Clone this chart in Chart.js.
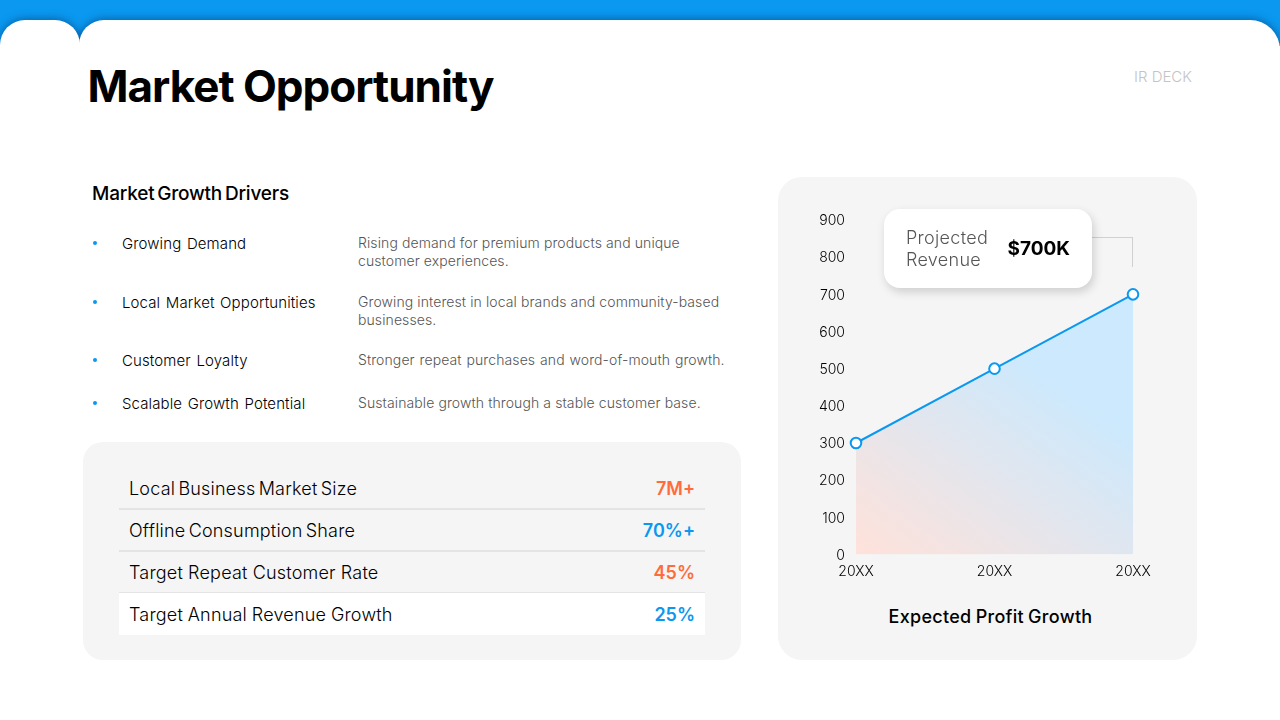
<!DOCTYPE html>
<html>
<head>
<meta charset="utf-8">
<title>Market Opportunity</title>
<script src="https://cdn.jsdelivr.net/npm/chart.js@4"></script>
<style>
* { box-sizing: border-box; }
html, body { margin: 0; padding: 0; background: #fff; }
body { width: 1280px; height: 720px; position: relative; overflow: hidden; font-family: Inter, sans-serif; color: #000; }
.abs { position: absolute; white-space: nowrap; }
#band { left: 0; top: 0; width: 1280px; height: 60px; background: #0a98f0; }
#page { left: 0; top: 0; width: 1280px; height: 720px; filter: drop-shadow(0 -1px 4px rgba(0,40,90,0.5)); }
#tab { left: 0; top: 20px; width: 80px; height: 60px; background: #fff; border-radius: 25px 25px 0 0; }
#sheet { left: 79px; top: 20px; width: 1201px; height: 60px; background: #fff; border-radius: 25px 30px 0 0; }
#below { left: 0; top: 46px; width: 1280px; height: 674px; background: #fff; }
#title { left: 87.5px; top: 60px; font-size: 44px; line-height: 53px; font-weight: 700; letter-spacing: -1px; }
#deck { right: 88px; top: 67px; font-size: 15px; line-height: 19px; color: #c4c4c4; font-weight: 300; }
#sub { left: 92px; top: 182px; font-size: 19px; line-height: 23px; font-weight: 500; letter-spacing: -0.2px; word-spacing: -2px; }
.dot { width: 4px; height: 4px; border-radius: 50%; background: #0a98f0; left: 93px; }
.drv { left: 122px; font-size: 15px; line-height: 19px; color: #000; font-weight: 300; letter-spacing: 0.12px; word-spacing: 1.2px; }
.dsc { left: 358px; font-size: 14px; line-height: 18px; color: #555; font-weight: 300; letter-spacing: 0.1px; }
#tablePanel { left: 83px; top: 442px; width: 658px; height: 218px; background: #f5f5f5; border-radius: 20px; }
.row { left: 119px; width: 586px; height: 42px; }
.row .k { position: absolute; left: 10px; top: 10px; font-size: 18px; line-height: 24px; font-weight: 350; color: #000; letter-spacing: 0.2px; }
.row .v { position: absolute; right: 10px; top: 10px; font-size: 18px; line-height: 24px; font-weight: 600; }
.sep { left: 119px; width: 586px; height: 2px; background: #e4e4e4; }
#chartPanel { left: 778px; top: 177px; width: 419px; height: 483px; background: #f5f5f5; border-radius: 24px; }
#canvasWrap { position: absolute; left: 780px; top: 200px; width: 400px; height: 400px; }
#chartTitle { left: 778px; width: 425px; text-align: center; top: 605px; font-size: 18px; line-height: 23px; font-weight: 500; letter-spacing: 0.3px; word-spacing: -1px; }
#leader { left: 1090px; top: 237px; width: 43px; height: 30px; border-top: 1px solid #d0d0d0; border-right: 1px solid #d0d0d0; }
#card { left: 884px; top: 209px; width: 208px; height: 79px; background: #fff; border-radius: 16px; box-shadow: 2px 4px 10px rgba(0,0,0,0.16); }
#cardLabel { position: absolute; left: 22px; top: 18px; font-size: 18px; line-height: 22px; font-weight: 300; color: #555; white-space: pre; letter-spacing: 0.3px; }
#cardValue { position: absolute; right: 22px; top: 28px; font-size: 19px; line-height: 24px; font-weight: 700; }
</style>
</head>
<body>
<div class="abs" id="band"></div>
<div class="abs" id="page">
  <div class="abs" id="tab"></div>
  <div class="abs" id="sheet"></div>
  <div class="abs" id="below"></div>
</div>
<div class="abs" id="title">Market Opportunity</div>
<div class="abs" id="deck">IR DECK</div>
<div class="abs" id="sub">Market Growth Drivers</div>
<div class="abs" id="tablePanel"></div>
<div class="abs" id="chartPanel"></div>
<div id="canvasWrap"><canvas id="growth" width="400" height="400"></canvas></div>
<div class="abs" id="leader"></div>
<div class="abs" id="card">
  <div id="cardLabel">Projected
Revenue</div>
  <div id="cardValue">$700K</div>
</div>
<div class="abs" id="chartTitle">Expected Profit Growth</div>
<script>
// chart data
const years = ['20XX', '20XX', '20XX'];
const profit = [300, 500, 700];
const yMax = 900;
const yStep = 100;

// text blocks
const driverNames = ['Growing Demand', 'Local Market Opportunities', 'Customer Loyalty', 'Scalable Growth Potential'];
const driverText = [
    'Rising demand for premium products and unique<br>customer experiences.',
    'Growing interest in local brands and community-based<br>businesses.',
    'Stronger repeat purchases and word-of-mouth growth.',
    'Sustainable growth through a stable customer base.'
];
const statNames = ['Local Business Market Size', 'Offline Consumption Share', 'Target Repeat Customer Rate', 'Target Annual Revenue Growth'];
const statValues = ['7M+', '70%+', '45%', '25%'];

const orange = '#ff6b3d';
const blue = '#0a98f0';

function addDiv(cls, top, html) {
    let d = document.createElement('div');
    d.className = 'abs ' + cls;
    d.style.top = top + 'px';
    d.innerHTML = html;
    document.body.appendChild(d);
    return d;
}

const driverTops = [234, 293, 351, 394];
const descWordGap = [0, 0, 0.8, 0];
for (let i = 0; i < driverNames.length; i++) {
    addDiv('dot', driverTops[i] + 7, '');
    addDiv('drv', driverTops[i], driverNames[i]);
    addDiv('dsc', driverTops[i], driverText[i]).style.wordSpacing = descWordGap[i] + 'px';
}

const rowTops = [467, 509, 551, 593];
const rowWordGap = [-2, -2, -0.2, -0.5];
for (let i = 0; i < statNames.length; i++) {
    let r = addDiv('row', rowTops[i], '<div class="k" style="word-spacing:' + rowWordGap[i] + 'px">' + statNames[i] + '</div><div class="v" style="color:' + (i % 2 ? blue : orange) + '">' + statValues[i] + '</div>');
    if (i == 3) r.style.background = '#fff';
    if (i < 3) addDiv('sep', rowTops[i] + 41, '');
}

function areaFill(context) {
    let area = context.chart.chartArea;
    if (!area) return 'transparent';
    let g = context.chart.ctx.createLinearGradient(area.left, area.bottom, area.left + 150, area.bottom - 210);
    g.addColorStop(0, '#ffe2da');
    g.addColorStop(1, '#cce9fd');
    return g;
}

// line + area chart
var ctx = document.getElementById('growth').getContext('2d');
var growth = new Chart(ctx, {
    type: 'line',
    data: {
        labels: years,
        datasets: [{
            data: profit,
            borderColor: blue,
            borderWidth: 2,
            backgroundColor: areaFill,
            fill: 'origin',
            tension: 0,
            pointRadius: 5.3,
            pointBorderWidth: 2,
            pointBackgroundColor: '#fff',
            pointBorderColor: blue,
            clip: false
        }]
    },
    options: {
        responsive: false,
        animation: false,
        layout: { padding: { top: 20, right: 47, left: 0, bottom: 0 } },
        plugins: { legend: { display: false }, tooltip: { enabled: false } },
        scales: {
            x: {
                offset: false,
                grid: { display: false, drawTicks: false },
                border: { display: false },
                ticks: { color: '#000', font: { family: 'Inter', size: 14, weight: 300 }, padding: 9, maxRotation: 0, autoSkip: false },
                afterFit: function(s) { s.height = 45.5; }
            },
            y: {
                min: 0,
                max: yMax,
                grid: { display: false, drawTicks: false },
                border: { display: false },
                ticks: { stepSize: yStep, color: '#000', font: { family: 'Inter', size: 14, weight: 300 }, padding: 11 },
                afterFit: function(s) { s.width = 76; }
            }
        }
    }
});

// y labels sit 1px lower in the reference
var ys = growth.scales.y;
var drawYLabels = ys.drawLabels;
ys.drawLabels = function(a) {
    this.ctx.save();
    this.ctx.translate(0, 1);
    drawYLabels.call(this, a);
    this.ctx.restore();
};
growth.draw();
</script>
</body>
</html>
